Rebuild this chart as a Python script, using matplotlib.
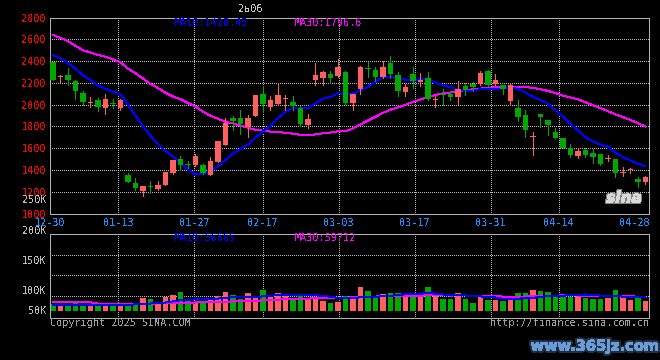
import matplotlib
matplotlib.use('Agg')
import matplotlib.pyplot as plt
import numpy as np
from matplotlib import patheffects as pe

plt.rcParams['text.antialiased'] = False

# ---------------- data ----------------
dates = ['12-30', '12-31', '01-02', '01-03', '01-06', '01-07', '01-08', '01-09', '01-10', '01-13',
         '01-14', '01-15', '01-16', '01-17', '01-20', '01-21', '01-22', '01-23', '01-24', '01-27',
         '02-05', '02-06', '02-07', '02-10', '02-11', '02-12', '02-13', '02-14', '02-17', '02-18',
         '02-19', '02-20', '02-21', '02-24', '02-25', '02-26', '02-27', '02-28', '03-03', '03-04',
         '03-05', '03-06', '03-07', '03-10', '03-11', '03-12', '03-13', '03-14', '03-17', '03-18',
         '03-19', '03-20', '03-21', '03-24', '03-25', '03-26', '03-27', '03-28', '03-31', '04-01',
         '04-02', '04-03', '04-07', '04-08', '04-09', '04-10', '04-11', '04-14', '04-15', '04-16',
         '04-17', '04-18', '04-21', '04-22', '04-23', '04-24', '04-25', '04-28', '04-29', '04-30']

opens = [2390, 2250, 2272, 2220, 2110, 2015, 2044, 1965, 2010, 1965,
         1354, 1281, 1208, 1252, 1227, 1265, 1369, 1503, 1455, 1445,
         1445, 1354, 1475, 1627, 1880, 1873, 1797, 1892, 2101, 1977,
         2007, 2053, 2025, 1971, 1810, 2223, 2241, 2281, 2263, 2302,
         2019, 2147, 2338, 2320, 2250, 2381, 2268, 2113, 2284, 2208,
         2244, 2038, 2095, 2101, 2068, 2168, 2190, 2193, 2305, 2193,
         2183, 2032, 1971, 1901, 1703, 1916, 1855, 1752, 1691, 1606,
         1530, 1582, 1560, 1551, 1500, 1500, 1369, 1397, 1317, 1290]

highs = [2395, 2275, 2336, 2222, 2129, 2068, 2062, 2098, 2056, 2056,
         1369, 1326, 1253, 1302, 1300, 1381, 1493, 1524, 1484, 1551,
         1455, 1521, 1664, 1880, 1900, 1946, 1909, 2092, 2174, 2077,
         2199, 2092, 2083, 1986, 1916, 2381, 2311, 2305, 2421, 2305,
         2098, 2359, 2390, 2341, 2396, 2442, 2299, 2189, 2341, 2290,
         2299, 2083, 2147, 2114, 2220, 2199, 2205, 2305, 2320, 2284,
         2183, 2199, 2038, 1946, 1752, 1916, 1855, 1782, 1697, 1642,
         1600, 1597, 1591, 1551, 1536, 1500, 1424, 1418, 1338, 1348]

lows = [2225, 2200, 2183, 2047, 2001, 1977, 1940, 1910, 1965, 1947,
        1287, 1220, 1162, 1190, 1215, 1259, 1360, 1403, 1418, 1439,
        1363, 1354, 1470, 1627, 1767, 1733, 1703, 1891, 1934, 1955,
        2001, 1955, 1955, 1800, 1782, 2183, 2177, 2199, 2257, 2010,
        1952, 2098, 2256, 2214, 2244, 2244, 2083, 2077, 2153, 2168,
        2038, 1977, 2001, 2038, 2007, 2092, 2129, 2177, 2168, 2177,
        2101, 1995, 1849, 1703, 1539, 1790, 1722, 1691, 1600, 1521,
        1506, 1521, 1466, 1448, 1478, 1338, 1348, 1369, 1241, 1269]

closes = [2230, 2255, 2223, 2129, 2025, 2020, 1977, 2053, 2004, 2038,
          1293, 1235, 1253, 1243, 1262, 1381, 1493, 1442, 1445, 1530,
          1372, 1485, 1664, 1828, 1850, 1819, 1873, 2092, 2010, 2038,
          2092, 2062, 1986, 1819, 1864, 2275, 2302, 2244, 2348, 2019,
          2098, 2350, 2326, 2256, 2341, 2280, 2123, 2159, 2214, 2223,
          2047, 2044, 2089, 2071, 2147, 2138, 2159, 2293, 2177, 2229,
          2147, 2183, 1886, 1767, 1710, 1889, 1813, 1691, 1606, 1539,
          1570, 1539, 1521, 1454, 1509, 1369, 1375, 1400, 1287, 1338]

# volume in thousands
volumes_k = [30.5, 19.6, 30.5, 33.4, 30.5, 19.6, 20.9, 30.5, 20.9, 23.8,
             32.2, 32.2, 53.1, 50.2, 32.2, 57.3, 66.9, 79.4, 43.1, 36.4,
             43.1, 50.2, 62.7, 79.4, 66.9, 50.2, 75.2, 62.7, 87.8, 57.3,
             75.2, 71.1, 54.3, 66.9, 54.3, 57.3, 41.8, 33.4, 37.6, 64.0,
             64.0, 99.1, 82.3, 61.4, 72.3, 76.5, 76.5, 61.4, 72.3, 61.4,
             99.1, 61.4, 48.9, 48.9, 74.0, 48.9, 32.2, 61.4, 44.7, 44.7,
             40.5, 44.7, 74.0, 74.0, 86.5, 82.3, 78.2, 58.5, 59.8, 59.8,
             62.7, 55.6, 50.2, 50.2, 54.3, 87.8, 64.8, 46.0, 54.3, 41.8]

# moving-average values at the start of the window (earlier data not shown)
ma10_head = [2455, 2425, 2385, 2330, 2272, 2225, 2175, 2145, 2118]
ma30_head = [2640, 2612, 2585, 2540, 2500, 2478, 2457, 2440, 2415, 2390,
             2330, 2290, 2240, 2190, 2153, 2110, 2075, 2050, 2015, 1985,
             1935, 1898, 1870, 1842, 1828, 1806, 1788, 1770, 1760]
vma10_head_k = [25.5, 25.5, 25.5, 25.0, 25.0, 25.0, 25.0, 25.5, 25.8]
vma30_head_k = [36, 36, 36, 36, 36, 36, 31, 31, 31, 31,
                30.5, 30.5, 31, 31, 31.5, 32, 33, 34, 35, 35.5,
                36, 37, 38, 39, 40, 41, 42, 43, 44]

tick_dates = ['12-30', '01-13', '01-27', '02-17', '03-03', '03-17', '03-31', '04-14', '04-28']
grid_dates = ['01-13', '01-27', '02-17', '03-03', '03-17', '03-31', '04-14']
price_ticks = [1000, 1200, 1400, 1600, 1800, 2000, 2200, 2400, 2600, 2800]
price_labels = ['1000', '1200', '1400', '1600', '1800', '2000', '2200', '2400', '2600', '2800']
vol_labels = ['250K', '200K', '150K', '100K', '50K']
ma_texts = ['MA10:1428.45', 'MA30:1796.6']
vma_texts = ['MA10:56665', 'MA30:59712']
title_text = '2ь06'

# ---------------- derived ----------------
o = np.array(opens, float); h = np.array(highs, float)
l = np.array(lows, float); c = np.array(closes, float)
v = np.array(volumes_k, float) * 1000
n = len(c)
x = np.arange(n)


def moving(arr, w, head):
    out = np.empty(len(arr))
    out[:len(head)] = head
    for i in range(len(head), len(arr)):
        out[i] = arr[i - w + 1:i + 1].mean()
    return out

ma10 = moving(c, 10, ma10_head)
ma30 = moving(c, 30, ma30_head)
vma10 = moving(v, 10, np.array(vma10_head_k) * 1000)
vma30 = moving(v, 30, np.array(vma30_head_k) * 1000)

RED = '#FF5F5F'
GREEN = '#00A800'
GRID = '#BEBEBE'
BORDER = '#B4B4B4'
MONO = 'DejaVu Sans Mono'
FS = 7.3
LW = 0.72

up = c >= o
cols = [RED if u else GREEN for u in up]

W, H = 660, 360
fig = plt.figure(figsize=(6.6, 3.6), dpi=100, facecolor='black')


def fx(px):
    return px / W


def fy(py):
    return 1 - py / H

# ---------------- price panel ----------------
L, R = 50, 649
ax = fig.add_axes([fx(L), fy(213.5), fx(R) - fx(L), fy(17.5) - fy(213.5)], facecolor='black')
ax.set_xlim(-0.38, -0.38 + (R - L) / 7.5)
ax.set_ylim(1000, 2800)

pos_of = {d: i for i, d in enumerate(dates)}
gx = [pos_of[d] * 80 / 79 - 0.38 for d in grid_dates]
for yv in price_ticks[1:-1]:
    ax.axhline(yv, color=GRID, lw=LW, ls=(0, (1, 2)), antialiased=False, zorder=0)
for g in gx:
    ax.axvline(g, color=GRID, lw=LW, ls=(0, (1, 2)), antialiased=False, zorder=0)

ax.plot(x, ma30, color='#FF00FF', lw=LW, antialiased=False, zorder=1)
ax.plot(x, ma10, color='#0000FF', lw=LW, antialiased=False, zorder=1)

ax.vlines(x, l, h, colors=cols, lw=LW, antialiased=False, zorder=2)
body_b = np.minimum(o, c)
body_h = np.maximum(np.abs(c - o), 9)
ax.bar(x, body_h, bottom=body_b, width=0.76, color=cols, linewidth=0, antialiased=False, zorder=3)

tx = [pos_of[d] * 80 / 79 - 0.38 for d in tick_dates]
ax.set_xticks(tx)
ax.set_xticklabels(tick_dates)
ax.set_yticks(price_ticks)
ax.set_yticklabels(price_labels)
ax.tick_params(axis='x', length=0, pad=3.2, colors='#1E90FF', labelsize=FS)
ax.tick_params(axis='y', length=0, pad=3.0, colors='#FF0000', labelsize=FS)
for t in ax.get_xticklabels() + ax.get_yticklabels():
    t.set_family(MONO)
for s in ax.spines.values():
    s.set_color(BORDER)
    s.set_linewidth(LW)

# ---------------- volume panel ----------------
vt, vb, base = 234.3, 318.3, 311.0
k = 4180.0  # volume per pixel
axv = fig.add_axes([fx(L), fy(vb), fx(R) - fx(L), fy(vt) - fy(vb)], facecolor='black')
axv.set_xlim(ax.get_xlim())
ylo, yhi = -(vb - base) * k, (base - vt) * k
axv.set_ylim(ylo, yhi)
for frac in (0.246, 0.488, 0.731):
    axv.axhline(yhi - frac * (yhi - ylo), color=GRID, lw=LW, ls=(0, (1, 2)), antialiased=False, zorder=0)
for g in gx:
    axv.axvline(g, color=GRID, lw=LW, ls=(0, (1, 2)), antialiased=False, zorder=0)
axv.bar(x, v, width=0.76, color=cols, linewidth=0, antialiased=False, zorder=2)
axv.plot(x, vma30, color='#FF00FF', lw=LW, antialiased=False, zorder=3)
axv.plot(x, vma10, color='#0000FF', lw=LW, antialiased=False, zorder=3)
axv.set_xticks([]); axv.set_yticks([])
for s in axv.spines.values():
    s.set_color(BORDER)
    s.set_linewidth(LW)

vlab_y = [200, 231, 261, 291, 311]
for lab, py in zip(vol_labels, vlab_y):
    fig.text(fx(46.5), fy(py), lab, color='#C0C0C0', ha='right', va='center', fontsize=FS, family=MONO)

# ---------------- texts ----------------
fig.text(fx(175), fy(23.5), ma_texts[0], color='#0000FF', ha='left', va='center', fontsize=FS, family=MONO)
fig.text(fx(295), fy(23.5), ma_texts[1], color='#FF00FF', ha='left', va='center', fontsize=FS, family=MONO)
fig.text(fx(175), fy(238), vma_texts[0], color='#0000FF', ha='left', va='center', fontsize=FS, family=MONO)
fig.text(fx(295), fy(238), vma_texts[1], color='#FF00FF', ha='left', va='center', fontsize=FS, family=MONO)
fig.text(fx(250), fy(9), title_text, color='#C8C8C8', ha='center', va='center', fontsize=FS, family=MONO)

fig.text(fx(50), fy(323.5), 'Copyright 2025 SINA.COM', color='#A0A0A0', ha='left', va='center', fontsize=FS, family=MONO)
fig.text(fx(649), fy(323.5), 'http://finance.sina.com.cn', color='#A0A0A0', ha='right', va='center', fontsize=FS, family=MONO)

fig.text(fx(624), fy(198), 'sina', color='#D8D8D8', ha='center', va='center', fontsize=11,
         fontweight='bold', style='italic', family='DejaVu Sans',
         path_effects=[pe.withStroke(linewidth=1.5, foreground='#808080')])
fig.text(fx(595), fy(346), 'www.365jz.com', color='#6A9BD8', ha='center', va='center', fontsize=10.5,
         fontweight='bold', family='DejaVu Sans',
         path_effects=[pe.withStroke(linewidth=2.5, foreground='#203040')])

fig.savefig('out.png', dpi=100, facecolor='black')
